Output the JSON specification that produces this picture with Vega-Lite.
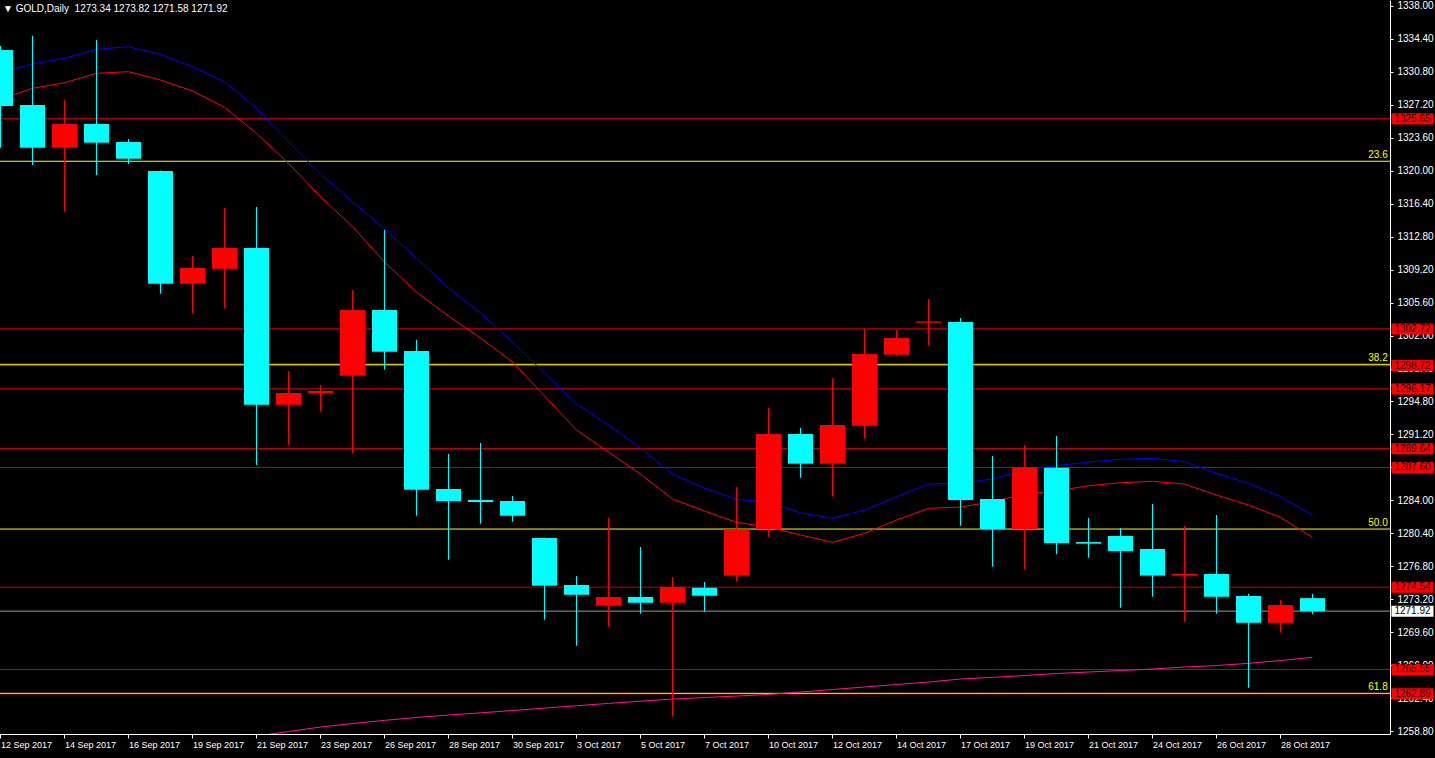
{
  "$schema": "https://vega.github.io/schema/vega-lite/v6.json",
  "width": 1390,
  "height": 734,
  "autosize": {"type": "none"},
  "padding": {"left": 0, "top": 0, "right": 45, "bottom": 24},
  "background": "#000000",
  "config": {
    "view": {"stroke": null},
    "font": "Liberation Sans",
    "scale": {"continuousPadding": 0},
    "axis": {"grid": false, "domainColor": "#ffffff", "domainWidth": 1, "tickColor": "#ffffff", "tickWidth": 1, "labelColor": "#ffffff", "labelFont": "Liberation Sans", "labelFlush": false},
    "axisX": {"tickSize": 4, "labelPadding": 2, "labelAlign": "left", "labelBaseline": "top", "labelFontSize": 9},
    "axisY": {"tickSize": 3, "labelPadding": 4, "labelFontSize": 10}
  },
  "title": {
    "text": "▼ GOLD,Daily\u00a0\u00a01273.34 1273.82 1271.58 1271.92",
    "anchor": "start",
    "frame": "group",
    "orient": "top",
    "offset": -14,
    "dx": 3,
    "color": "#ffffff",
    "fontSize": 10,
    "fontWeight": "normal",
    "font": "Liberation Sans"
  },
  "datasets": {
    "candles": [
      {"i": 0, "date": "12 Sep 2017", "open": 1333.17, "high": 1333.6, "low": 1322.5, "close": 1327.05, "ema_fast": 1330.69, "ema_slow": 1327.82, "ma_long": null},
      {"i": 1, "date": "13 Sep 2017", "open": 1327.16, "high": 1334.72, "low": 1320.61, "close": 1322.5, "ema_fast": 1331.64, "ema_slow": 1328.98, "ma_long": null},
      {"i": 2, "date": "14 Sep 2017", "open": 1322.5, "high": 1327.71, "low": 1315.51, "close": 1325.09, "ema_fast": 1332.26, "ema_slow": 1329.59, "ma_long": null},
      {"i": 3, "date": "15 Sep 2017", "open": 1325.09, "high": 1334.26, "low": 1319.52, "close": 1323.05, "ema_fast": 1333.24, "ema_slow": 1330.62, "ma_long": null},
      {"i": 4, "date": "16 Sep 2017", "open": 1323.12, "high": 1323.45, "low": 1320.72, "close": 1321.3, "ema_fast": 1333.52, "ema_slow": 1330.8, "ma_long": null},
      {"i": 5, "date": "18 Sep 2017", "open": 1319.96, "high": 1320.0, "low": 1306.56, "close": 1307.65, "ema_fast": 1332.69, "ema_slow": 1329.89, "ma_long": null},
      {"i": 6, "date": "19 Sep 2017", "open": 1307.65, "high": 1310.68, "low": 1304.38, "close": 1309.37, "ema_fast": 1331.34, "ema_slow": 1328.69, "ma_long": null},
      {"i": 7, "date": "20 Sep 2017", "open": 1309.29, "high": 1315.92, "low": 1304.93, "close": 1311.55, "ema_fast": 1329.7, "ema_slow": 1326.91, "ma_long": null},
      {"i": 8, "date": "21 Sep 2017", "open": 1311.55, "high": 1316.03, "low": 1287.87, "close": 1294.45, "ema_fast": 1326.8, "ema_slow": 1324.07, "ma_long": 1258.29},
      {"i": 9, "date": "22 Sep 2017", "open": 1294.45, "high": 1298.12, "low": 1290.05, "close": 1295.73, "ema_fast": 1323.16, "ema_slow": 1320.8, "ma_long": 1258.78},
      {"i": 10, "date": "23 Sep 2017", "open": 1295.73, "high": 1296.6, "low": 1293.7, "close": 1295.95, "ema_fast": 1319.63, "ema_slow": 1317.15, "ma_long": 1259.27},
      {"i": 11, "date": "25 Sep 2017", "open": 1297.6, "high": 1306.97, "low": 1289.18, "close": 1304.79, "ema_fast": 1316.61, "ema_slow": 1313.88, "ma_long": 1259.65},
      {"i": 12, "date": "26 Sep 2017", "open": 1304.79, "high": 1313.52, "low": 1298.27, "close": 1300.24, "ema_fast": 1313.63, "ema_slow": 1310.02, "ma_long": 1260.0},
      {"i": 13, "date": "27 Sep 2017", "open": 1300.31, "high": 1301.51, "low": 1282.33, "close": 1285.17, "ema_fast": 1310.46, "ema_slow": 1306.75, "ma_long": 1260.31},
      {"i": 14, "date": "28 Sep 2017", "open": 1285.25, "high": 1289.07, "low": 1277.53, "close": 1283.94, "ema_fast": 1307.19, "ema_slow": 1304.13, "ma_long": 1260.58},
      {"i": 15, "date": "29 Sep 2017", "open": 1284.05, "high": 1290.27, "low": 1281.46, "close": 1283.83, "ema_fast": 1304.46, "ema_slow": 1301.73, "ma_long": 1260.82},
      {"i": 16, "date": "30 Sep 2017", "open": 1283.94, "high": 1284.49, "low": 1281.68, "close": 1282.33, "ema_fast": 1301.29, "ema_slow": 1299.11, "ma_long": 1261.07},
      {"i": 17, "date": "2 Oct 2017", "open": 1279.9, "high": 1279.95, "low": 1270.98, "close": 1274.69, "ema_fast": 1297.91, "ema_slow": 1295.4, "ma_long": 1261.34},
      {"i": 18, "date": "3 Oct 2017", "open": 1274.77, "high": 1275.75, "low": 1268.14, "close": 1273.71, "ema_fast": 1294.53, "ema_slow": 1291.69, "ma_long": 1261.59},
      {"i": 19, "date": "4 Oct 2017", "open": 1272.51, "high": 1282.08, "low": 1270.22, "close": 1273.46, "ema_fast": 1292.23, "ema_slow": 1289.29, "ma_long": 1261.85},
      {"i": 20, "date": "5 Oct 2017", "open": 1273.46, "high": 1278.92, "low": 1271.64, "close": 1272.84, "ema_fast": 1289.72, "ema_slow": 1286.88, "ma_long": 1262.09},
      {"i": 21, "date": "6 Oct 2017", "open": 1272.84, "high": 1275.64, "low": 1260.4, "close": 1274.55, "ema_fast": 1286.88, "ema_slow": 1284.16, "ma_long": 1262.33},
      {"i": 22, "date": "7 Oct 2017", "open": 1274.47, "high": 1275.1, "low": 1271.86, "close": 1273.6, "ema_fast": 1285.36, "ema_slow": 1282.85, "ma_long": 1262.49},
      {"i": 23, "date": "9 Oct 2017", "open": 1275.8, "high": 1285.47, "low": 1275.13, "close": 1280.85, "ema_fast": 1284.12, "ema_slow": 1281.61, "ma_long": 1262.65},
      {"i": 24, "date": "10 Oct 2017", "open": 1280.88, "high": 1294.09, "low": 1280.04, "close": 1291.25, "ema_fast": 1283.83, "ema_slow": 1281.1, "ma_long": 1262.83},
      {"i": 25, "date": "11 Oct 2017", "open": 1291.25, "high": 1291.91, "low": 1286.48, "close": 1288.01, "ema_fast": 1282.66, "ema_slow": 1280.23, "ma_long": 1263.09},
      {"i": 26, "date": "12 Oct 2017", "open": 1288.01, "high": 1297.36, "low": 1284.41, "close": 1292.23, "ema_fast": 1282.05, "ema_slow": 1279.43, "ma_long": 1263.36},
      {"i": 27, "date": "13 Oct 2017", "open": 1292.16, "high": 1302.74, "low": 1290.74, "close": 1299.98, "ema_fast": 1282.96, "ema_slow": 1280.41, "ma_long": 1263.64},
      {"i": 28, "date": "14 Oct 2017", "open": 1299.91, "high": 1302.6, "low": 1299.8, "close": 1301.73, "ema_fast": 1284.41, "ema_slow": 1281.86, "ma_long": 1263.91},
      {"i": 29, "date": "16 Oct 2017", "open": 1303.4, "high": 1305.99, "low": 1300.9, "close": 1303.55, "ema_fast": 1285.79, "ema_slow": 1283.14, "ma_long": 1264.18},
      {"i": 30, "date": "17 Oct 2017", "open": 1303.47, "high": 1303.91, "low": 1281.24, "close": 1284.05, "ema_fast": 1285.87, "ema_slow": 1283.28, "ma_long": 1264.51},
      {"i": 31, "date": "18 Oct 2017", "open": 1284.16, "high": 1288.85, "low": 1276.77, "close": 1280.88, "ema_fast": 1286.34, "ema_slow": 1283.86, "ma_long": 1264.69},
      {"i": 32, "date": "19 Oct 2017", "open": 1280.88, "high": 1290.05, "low": 1276.44, "close": 1287.62, "ema_fast": 1287.32, "ema_slow": 1284.7, "ma_long": 1264.89},
      {"i": 33, "date": "20 Oct 2017", "open": 1287.57, "high": 1291.03, "low": 1278.15, "close": 1279.35, "ema_fast": 1287.79, "ema_slow": 1285.03, "ma_long": 1265.11},
      {"i": 34, "date": "21 Oct 2017", "open": 1279.46, "high": 1282.08, "low": 1277.75, "close": 1279.28, "ema_fast": 1288.19, "ema_slow": 1285.61, "ma_long": 1265.27},
      {"i": 35, "date": "23 Oct 2017", "open": 1280.12, "high": 1280.99, "low": 1272.29, "close": 1278.48, "ema_fast": 1288.49, "ema_slow": 1285.93, "ma_long": 1265.44},
      {"i": 36, "date": "24 Oct 2017", "open": 1278.7, "high": 1283.61, "low": 1273.49, "close": 1275.8, "ema_fast": 1288.6, "ema_slow": 1286.09, "ma_long": 1265.6},
      {"i": 37, "date": "25 Oct 2017", "open": 1275.8, "high": 1281.21, "low": 1270.76, "close": 1275.97, "ema_fast": 1288.23, "ema_slow": 1285.79, "ma_long": 1265.82},
      {"i": 38, "date": "26 Oct 2017", "open": 1275.97, "high": 1282.41, "low": 1271.64, "close": 1273.49, "ema_fast": 1286.96, "ema_slow": 1284.59, "ma_long": 1265.98},
      {"i": 39, "date": "27 Oct 2017", "open": 1273.57, "high": 1273.82, "low": 1263.56, "close": 1270.65, "ema_fast": 1285.87, "ema_slow": 1283.5, "ma_long": 1266.22},
      {"i": 40, "date": "28 Oct 2017", "open": 1270.65, "high": 1273.13, "low": 1269.57, "close": 1272.58, "ema_fast": 1284.41, "ema_slow": 1282.16, "ma_long": 1266.53},
      {"i": 41, "date": "30 Oct 2017", "open": 1273.34, "high": 1273.82, "low": 1271.58, "close": 1271.92, "ema_fast": 1282.41, "ema_slow": 1279.97, "ma_long": 1266.88}
    ],
    "levels": [
      {"price": 1325.65, "kind": "red"},
      {"price": 1302.72, "kind": "red"},
      {"price": 1298.72, "kind": "red"},
      {"price": 1296.17, "kind": "red"},
      {"price": 1289.64, "kind": "red"},
      {"price": 1287.60, "kind": "dark"},
      {"price": 1274.54, "kind": "dark"},
      {"price": 1265.55, "kind": "dark"},
      {"price": 1262.89, "kind": "dark"},
      {"price": 1271.92, "kind": "price"},
      {"price": 1321.02, "kind": "fib"},
      {"price": 1298.86, "kind": "fib"},
      {"price": 1280.88, "kind": "fib"},
      {"price": 1262.95, "kind": "fib"}
    ],
    "fib": [
      {"price": 1321.02, "label": "23.6"},
      {"price": 1298.86, "label": "38.2"},
      {"price": 1280.88, "label": "50.0"},
      {"price": 1262.95, "label": "61.8"}
    ],
    "tags": [
      {"price": 1325.65, "label": "1325.65", "kind": "red"},
      {"price": 1302.72, "label": "1302.72", "kind": "red"},
      {"price": 1298.72, "label": "1298.72", "kind": "red"},
      {"price": 1296.17, "label": "1296.17", "kind": "red"},
      {"price": 1289.64, "label": "1289.64", "kind": "red"},
      {"price": 1287.60, "label": "1287.60", "kind": "red"},
      {"price": 1274.54, "label": "1274.54", "kind": "red"},
      {"price": 1271.92, "label": "1271.92", "kind": "price"},
      {"price": 1265.55, "label": "1265.55", "kind": "red"},
      {"price": 1262.89, "label": "1262.89", "kind": "red"}
    ]
  },
  "layer": [
    {
      "data": {"name": "levels"},
      "mark": {"type": "rule", "strokeWidth": 1, "clip": true},
      "encoding": {
        "y": {"field": "price", "type": "quantitative", "title": null, "scale": {"domain": [1258.51, 1338.62], "nice": false, "zero": false, "padding": 0},
          "axis": {"orient": "right", "title": null, "tickCount": 40, "values": [1338.0, 1334.4, 1330.8, 1327.2, 1323.6, 1320.0, 1316.4, 1312.8, 1309.2, 1305.6, 1302.0, 1298.4, 1294.8, 1291.2, 1287.6, 1284.0, 1280.4, 1276.8, 1273.2, 1269.6, 1266.0, 1262.4, 1258.8], "format": ".2f", "labelOverlap": false, "labelFlush": false, "labelBound": false}},
        "color": {"field": "kind", "type": "nominal", "scale": {"domain": ["red", "dark", "price", "fib"], "range": ["#ff0000", "#c80000", "#9a9a9a", "#ffff00"]}, "legend": null}
      }
    },
    {
      "data": {"name": "candles"},
      "mark": {"type": "line", "strokeWidth": 1, "clip": true, "color": "#ff1493"},
      "encoding": {
        "x": {"field": "i", "type": "quantitative", "title": null, "scale": {"domain": [-0.0156, 43.422], "nice": false, "zero": false, "padding": 0},
          "axis": {"orient": "bottom", "title": null, "tickCount": 40, "values": [0, 2, 4, 6, 8, 10, 12, 14, 16, 18, 20, 22, 24, 26, 28, 30, 32, 34, 36, 38, 40], "labelOverlap": false, "labelFlush": false,
            "labelExpr": "['12 Sep 2017','14 Sep 2017','16 Sep 2017','19 Sep 2017','21 Sep 2017','23 Sep 2017','26 Sep 2017','28 Sep 2017','30 Sep 2017','3 Oct 2017','5 Oct 2017','7 Oct 2017','10 Oct 2017','12 Oct 2017','14 Oct 2017','17 Oct 2017','19 Oct 2017','21 Oct 2017','24 Oct 2017','26 Oct 2017','28 Oct 2017'][round(datum.value/2)]"}},
        "y": {"field": "ma_long", "type": "quantitative", "title": null}
      }
    },
    {
      "data": {"name": "candles"},
      "mark": {"type": "line", "strokeWidth": 1, "clip": true, "color": "#ff0000"},
      "encoding": {
        "x": {"field": "i", "type": "quantitative", "title": null},
        "y": {"field": "ema_slow", "type": "quantitative", "title": null}
      }
    },
    {
      "data": {"name": "candles"},
      "mark": {"type": "line", "strokeWidth": 1, "clip": true, "color": "#0000ff"},
      "encoding": {
        "x": {"field": "i", "type": "quantitative", "title": null},
        "y": {"field": "ema_fast", "type": "quantitative", "title": null}
      }
    },
    {
      "data": {"name": "candles"},
      "mark": {"type": "rule", "strokeWidth": 1, "clip": true},
      "encoding": {
        "x": {"field": "i", "type": "quantitative", "title": null},
        "y": {"field": "low", "type": "quantitative", "title": null},
        "y2": {"field": "high"},
        "color": {"condition": {"test": "datum.close > datum.open", "value": "#ff0000"}, "value": "#00ffff"}
      }
    },
    {
      "data": {"name": "candles"},
      "mark": {"type": "bar", "width": 25, "clip": true},
      "encoding": {
        "x": {"field": "i", "type": "quantitative", "title": null},
        "y": {"field": "open", "type": "quantitative", "title": null},
        "y2": {"field": "close"},
        "color": {"condition": {"test": "datum.close > datum.open", "value": "#ff0000"}, "value": "#00ffff"}
      }
    },
    {
      "data": {"name": "fib"},
      "mark": {"type": "text", "align": "right", "baseline": "bottom", "dy": -1, "fontSize": 10, "font": "Liberation Sans", "color": "#ffff00"},
      "encoding": {
        "x": {"datum": 43.35, "type": "quantitative", "title": null},
        "y": {"field": "price", "type": "quantitative", "title": null},
        "text": {"field": "label"}
      }
    },
    {
      "data": {"name": "tags"},
      "mark": {"type": "tick", "orient": "horizontal", "size": 42, "thickness": 11, "opacity": 1},
      "encoding": {
        "x": {"datum": 44.125, "type": "quantitative", "title": null},
        "y": {"field": "price", "type": "quantitative", "title": null},
        "color": {"condition": {"test": "datum.kind === 'price'", "value": "#ffffff"}, "value": "#ff0000"}
      }
    },
    {
      "data": {"name": "tags"},
      "mark": {"type": "text", "align": "center", "baseline": "middle", "fontSize": 10, "font": "Liberation Sans"},
      "encoding": {
        "x": {"datum": 44.125, "type": "quantitative", "title": null},
        "y": {"field": "price", "type": "quantitative", "title": null},
        "text": {"field": "label"},
        "color": {"condition": {"test": "datum.kind === 'price'", "value": "#000000"}, "value": "#2a0000"}
      }
    }
  ]
}
